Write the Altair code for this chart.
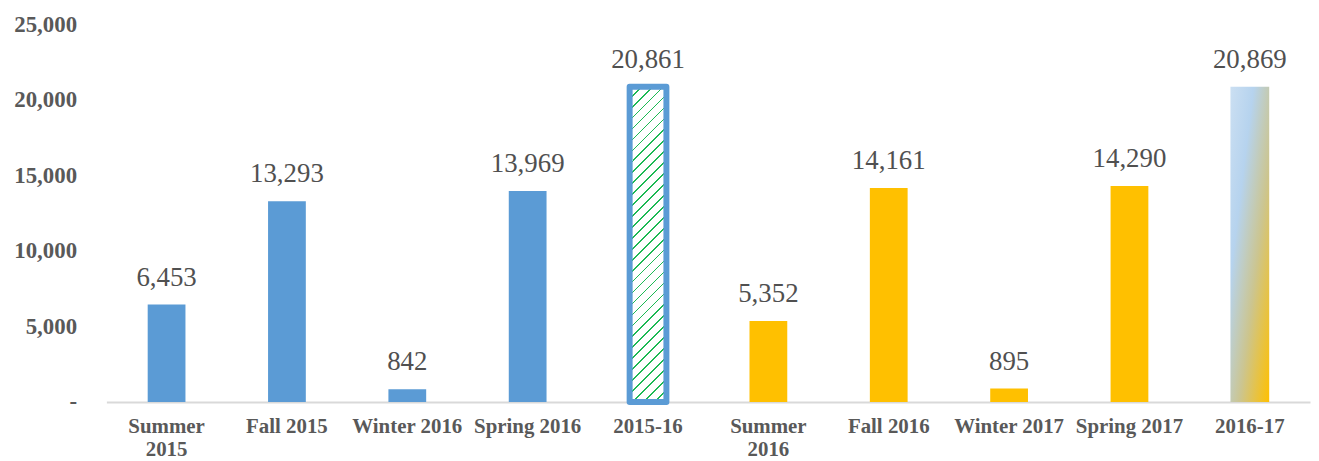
import altair as alt
import pandas as pd

categories = ["Summer 2015", "Fall 2015", "Winter 2016", "Spring 2016", "2015-16",
              "Summer 2016", "Fall 2016", "Winter 2017", "Spring 2017", "2016-17"]
values = [6453, 13293, 842, 13969, 20861, 5352, 14161, 895, 14290, 20869]
groups = ["2015", "2015", "2015", "2015", "total2015",
          "2016", "2016", "2016", "2016", "total2016"]

df = pd.DataFrame({"cat": categories, "value": values, "group": groups})

BLUE = "#5B9BD5"
GOLD = "#FFC000"
FONT = "Liberation Serif"

# diagonal stripe "pattern" built from a hard-stop linear gradient
w_px, h_px = 37.0, 317.0
a = (w_px + h_px) / (w_px ** 2 + h_px ** 2)
period, line_w = 11.0, 1.7
S = w_px + h_px
stops = []
k = 0
while k * period < S:
    s0 = k * period / S
    s1 = min((k * period + line_w) / S, 1.0)
    stops += [alt.GradientStop(color="white", offset=s0),
              alt.GradientStop(color="#1DB954", offset=s0),
              alt.GradientStop(color="#1DB954", offset=s1),
              alt.GradientStop(color="white", offset=s1)]
    k += 1
stripe_fill = alt.Gradient(gradient="linear", stops=stops,
                           x1=0, y1=0, x2=a * w_px, y2=a * h_px)

blend_fill = alt.Gradient(
    gradient="linear",
    stops=[alt.GradientStop(color="#CBDFF2", offset=0),
           alt.GradientStop(color="#B6D3EE", offset=0.3),
           alt.GradientStop(color="#CCC58F", offset=0.62),
           alt.GradientStop(color="#FFC000", offset=1)],
    x1=0, y1=0, x2=1, y2=1)

x_enc = alt.X("cat:N", sort=categories,
              scale=alt.Scale(paddingInner=0, paddingOuter=0),
              axis=alt.Axis(title=None, labelAngle=0, ticks=False,
                            domainColor="#D9D9D9", domainWidth=2,
                            labelFont=FONT, labelFontWeight="bold",
                            labelFontSize=21, labelColor="#595959",
                            labelPadding=14, labelLineHeight=23,
                            labelExpr="indexof(datum.label, 'Summer') == 0 ? split(datum.label, ' ') : datum.label"))
y_enc = alt.Y("value:Q",
              scale=alt.Scale(domain=[0, 25000], nice=False),
              axis=alt.Axis(title=None, grid=False, domain=False, ticks=False,
                            values=[0, 5000, 10000, 15000, 20000, 25000],
                            labelFont=FONT, labelFontWeight="bold",
                            labelFontSize=23, labelColor="#595959",
                            labelPadding=30,
                            labelExpr="datum.value == 0 ? '-\u00a0\u00a0\u00a0\u00a0' : format(datum.value, ',')"))

base = alt.Chart(df).encode(x=x_enc, y=y_enc)

bars = base.transform_filter(
    alt.FieldOneOfPredicate(field="group", oneOf=["2015", "2016"])
).mark_bar(width=38).encode(
    color=alt.Color("group:N", scale=alt.Scale(domain=["2015", "2016"], range=[BLUE, GOLD]),
                    legend=None)
)

total15 = base.transform_filter(alt.datum.group == "total2015").mark_bar(
    width=37, fill=stripe_fill, stroke=BLUE, strokeWidth=6, strokeJoin="round")

total16 = base.transform_filter(alt.datum.group == "total2016").mark_bar(
    width=39, fill=blend_fill)

labels = base.mark_text(font=FONT, fontSize=27, color="#505050",
                        baseline="middle", dy=-27).encode(
    text=alt.Text("value:Q", format=","))

chart = alt.layer(bars, total15, total16, labels).properties(
    width=1211, height=380,
    autosize=alt.AutoSizeParams(type="none"),
    padding={"left": 99, "top": 15, "right": 1, "bottom": 57},
    background="white",
).configure_view(stroke=None)

chart.save("out.html", embed_options={"renderer": "svg", "actions": False})
